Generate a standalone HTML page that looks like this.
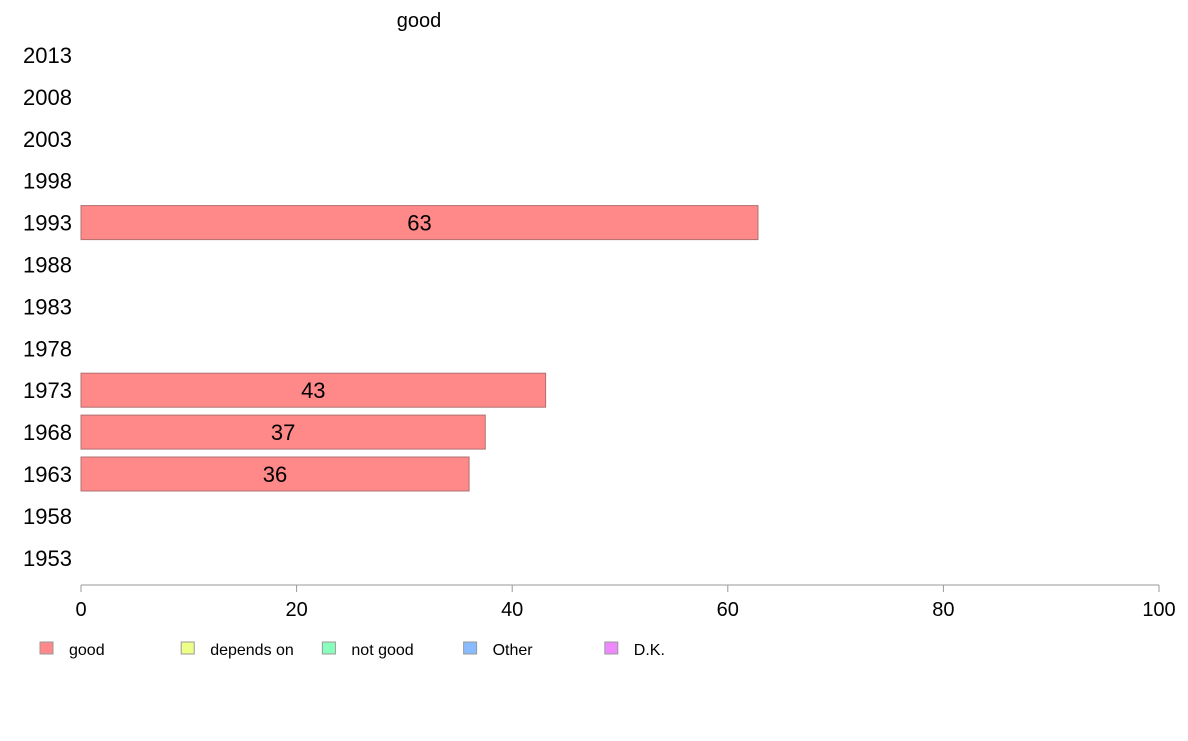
<!DOCTYPE html>
<html><head><meta charset="utf-8"><style>
body{margin:0;background:#fff;}
svg text{font-family:"Liberation Sans",Arial,sans-serif;}
</style></head><body>
<svg id="chart" width="1188" height="736" xmlns="http://www.w3.org/2000/svg">
<text x="419" y="27" font-size="20" text-anchor="middle">good</text>
<g id="yl"></g><g id="bars"></g>
<line x1="81" x2="1159" y1="585" y2="585" stroke="#999" stroke-width="1"/>
<g id="xt"></g>
<g id="legend"></g>
</svg>
<script>
const years=[2013,2008,2003,1998,1993,1988,1983,1978,1973,1968,1963,1958,1953];
const goodValues=[null,null,null,null,62.8,null,null,null,43.1,37.5,36.0,null,null];
const valueLabels=["","","","","63","","","","43","37","36","",""];
const xTicks=[0,20,40,60,80,100];
const legendLabels=["good","depends on","not good","Other","D.K."];
const legendColors=["#ff8888","#eeff88","#88ffbb","#88bbff","#ee88ff"];
const NS="http://www.w3.org/2000/svg";
const x=v=>81+v*(1159-81)/100;
const y=i=>55+i*41.9;
function mk(t,a,p){const e=document.createElementNS(NS,t);for(const k in a)e.setAttribute(k,a[k]);p.appendChild(e);return e;}
const yl=document.getElementById('yl'),bars=document.getElementById('bars'),xt=document.getElementById('xt'),lg=document.getElementById('legend');
years.forEach((yr,i)=>{
 const t=mk('text',{x:72,y:y(i)+8,'font-size':22,'text-anchor':'end'},yl);t.textContent=yr;
 
 
 const v=goodValues[i];
 if(v!=null){
  const r=mk('rect',{x:x(0),y:y(i)-17,width:x(v)-x(0),height:34,fill:'#ff8888',stroke:'#b07070','stroke-width':1},bars);
  
  
  const l=mk('text',{x:(x(0)+x(v))/2,y:y(i)+8,'font-size':22,'text-anchor':'middle'},bars);l.textContent=valueLabels[i];
  
  
 }
});
xTicks.forEach(v=>{
 const ln=mk('line',{x1:x(v),x2:x(v),y1:585,y2:592,stroke:'#999'},xt);
 
 
 const t=mk('text',{x:x(v),y:616,'font-size':20,'text-anchor':'middle'},xt);t.textContent=v;
 
 
});
legendLabels.forEach((s,i)=>{
 const bx=40+i*141.2;
 const r=mk('rect',{x:bx,y:642,width:13,height:12,fill:legendColors[i],stroke:'#999'},lg);
 
 
 const t=mk('text',{x:bx+29,y:655,'font-size':16},lg);t.textContent=s;
 
 
});
</script>
</body></html>
